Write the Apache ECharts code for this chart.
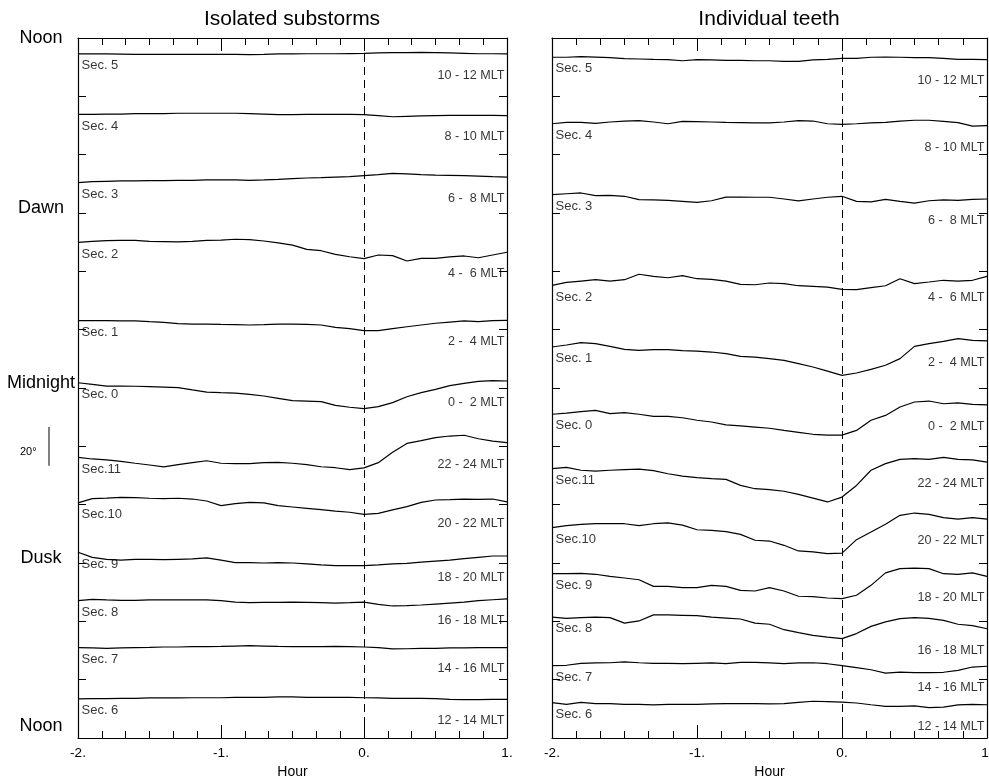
<!DOCTYPE html>
<html>
<head>
<meta charset="utf-8">
<script src="https://cdn.jsdelivr.net/npm/echarts@6/dist/echarts.min.js"></script>
<style>
  html, body { margin: 0; padding: 0; background: #fff; }
  #chart { width: 989px; height: 776px; }
</style>
</head>
<body>
<div id="chart"></div>
<script>
// sample times (hours from onset)
const hours = [-2.0,-1.9,-1.8,-1.7,-1.6,-1.5,-1.4,-1.3,-1.2,-1.1,-1.0,-0.9,-0.8,-0.7,-0.6,-0.5,
  -0.4,-0.3,-0.2,-0.1,0.0,0.1,0.2,0.3,0.4,0.5,0.6,0.7,0.8,0.9,1.0];

// rows from top to bottom
const secLabels = ['Sec. 5','Sec. 4','Sec. 3','Sec. 2','Sec. 1','Sec. 0','Sec.11','Sec.10','Sec. 9','Sec. 8','Sec. 7','Sec. 6'];
const mltLabels = ['10 - 12 MLT','8 - 10 MLT','6 -  8 MLT','4 -  6 MLT','2 -  4 MLT','0 -  2 MLT',
  '22 - 24 MLT','20 - 22 MLT','18 - 20 MLT','16 - 18 MLT','14 - 16 MLT','12 - 14 MLT'];
const sideTicks = [0, 90, 180, 270, 360];
const sideLabels = ['Noon', 'Dusk', 'Midnight', 'Dawn', 'Noon'];
const panelTitles = ['Isolated substorms', 'Individual teeth'];

// Isolated substorms (degrees, stacked)
const isoSec5 = [351.8,351.8,351.8,351.7,351.6,351.6,351.6,351.6,351.6,351.6,351.6,351.6,351.5,351.6,351.8,351.8,351.9,351.9,351.9,352.0,352.1,352.3,352.5,352.5,352.6,352.5,352.3,352.1,351.9,351.9,351.8];
const isoSec4 = [320.7,320.7,320.9,320.9,321.1,321.1,321.1,321.3,321.3,321.3,321.3,321.3,321.1,320.9,320.6,320.6,320.7,320.7,320.7,320.7,320.6,320.1,319.5,319.7,319.9,320.1,320.2,320.2,320.2,320.2,320.1];
const isoSec3 = [285.6,286.1,286.3,286.5,286.5,286.6,286.6,286.8,286.8,287.0,287.0,287.0,286.8,287.0,287.3,287.7,288.0,288.2,288.5,288.7,289.2,289.7,290.4,290.1,289.7,289.5,289.4,289.2,289.0,288.7,288.5];
const isoSec2 = [254.9,255.4,255.8,255.9,255.9,255.4,255.3,255.1,255.4,255.9,256.1,256.5,256.3,255.6,254.6,253.5,251.3,250.6,248.7,247.5,246.5,248.4,248.1,245.3,246.7,246.7,247.4,247.9,247.0,248.4,249.8];
const isoSec1 = [214.6,214.6,214.6,214.5,214.5,214.1,213.8,213.1,212.9,212.9,212.7,212.6,212.4,212.6,212.9,212.9,212.7,212.4,211.2,210.5,209.5,209.5,210.5,211.5,212.4,213.3,213.9,214.5,214.1,214.6,214.8];
const isoSec0 = [182.7,181.9,181.0,181.0,180.9,180.7,180.5,180.2,179.0,177.9,177.6,177.4,176.7,175.9,174.7,173.5,173.3,173.0,171.1,170.1,169.4,170.4,172.5,175.5,177.6,179.3,181.2,182.4,183.4,183.8,183.6];
const isoSec11 = [144.3,143.5,143.0,142.3,141.3,140.4,139.4,140.6,141.6,142.6,141.3,141.1,141.1,141.6,141.8,141.3,140.6,139.5,139.0,138.0,138.9,141.6,146.9,151.5,152.9,154.5,155.3,155.7,153.9,152.7,151.9];
const isoSec10 = [120.9,123.1,123.4,123.8,123.6,123.3,123.1,123.3,122.9,121.9,119.5,120.5,121.2,120.9,119.5,118.8,118.1,117.4,116.7,116.1,115.0,115.5,117.3,119.0,121.2,122.4,122.6,122.9,122.7,122.9,121.4];
const isoSec9 = [95.5,92.9,91.9,91.5,91.9,91.9,91.7,91.9,92.1,92.6,91.5,90.2,90.2,90.0,90.2,90.0,89.5,89.0,88.6,88.6,88.6,89.0,89.5,89.8,90.5,91.0,91.5,92.2,92.9,93.6,93.6];
const isoSec8 = [70.6,71.3,71.0,70.8,70.8,71.0,71.0,71.0,71.0,71.0,70.6,69.9,69.6,69.8,69.8,69.9,69.8,69.6,69.4,69.6,69.9,68.7,67.9,68.1,68.4,68.9,69.4,69.9,70.6,71.1,71.5];
const isoSec7 = [46.5,46.3,46.1,46.3,46.5,46.6,46.8,46.8,47.0,47.0,47.1,47.3,47.5,47.3,47.1,47.0,47.0,47.0,47.1,47.0,46.8,46.5,45.8,45.9,46.1,46.1,46.3,46.3,46.5,46.5,46.5];
const isoSec6 = [20.1,20.2,20.2,20.4,20.4,20.6,20.6,20.6,20.7,20.7,20.7,20.9,20.9,20.9,21.1,21.1,20.9,20.9,20.9,20.9,20.7,20.6,20.4,20.4,20.4,20.2,19.9,19.7,19.7,19.9,19.9];

// Individual teeth
const teethSec5 = [350.1,350.1,350.4,350.2,349.9,349.4,349.2,349.0,348.9,348.3,348.9,348.7,348.5,348.5,348.3,348.3,348.0,348.0,348.7,349.0,349.5,349.5,350.1,350.2,350.1,349.9,349.9,349.5,349.0,349.0,348.9];
const teethSec4 = [315.9,316.6,316.6,316.1,316.8,317.3,317.5,316.8,315.9,317.1,317.0,316.8,316.6,316.5,316.3,316.3,316.8,317.5,317.3,315.9,315.6,315.9,316.3,316.6,317.3,317.7,317.7,317.1,316.5,314.7,314.9];
const teethSec3 = [279.4,279.9,280.3,278.9,279.1,278.6,276.9,276.7,276.5,276.0,275.5,276.3,278.2,278.2,278.1,278.1,277.2,276.2,277.2,278.1,278.6,276.0,275.7,277.0,276.0,275.1,276.3,276.7,276.5,277.0,277.2];
const teethSec2 = [232.8,234.3,235.0,235.7,235.0,235.7,238.5,237.4,236.7,237.8,236.2,235.9,235.0,233.3,233.1,234.0,233.7,232.6,232.3,231.9,230.7,230.6,231.6,232.6,236.2,233.7,234.5,235.4,235.0,235.4,237.4];
const teethSec1 = [201.1,202.1,203.3,202.8,201.4,199.9,199.4,199.7,199.7,199.2,199.0,198.5,197.7,196.3,195.9,195.1,194.2,192.5,190.8,188.7,186.5,187.7,189.6,191.7,195.1,201.4,202.8,204.0,205.4,204.5,204.2];
const teethSec0 = [166.5,167.1,167.8,168.5,166.8,167.3,166.5,165.4,165.4,164.7,163.4,162.5,161.0,160.5,159.9,159.3,158.2,157.2,156.2,155.8,155.8,158.2,163.4,165.9,170.2,172.8,173.3,171.9,172.3,171.6,171.3];
const teethSec11 = [138.5,139.2,137.7,137.3,137.7,138.0,138.3,137.5,135.9,134.7,133.9,133.4,133.0,129.9,128.2,127.7,126.9,125.3,123.4,121.4,123.9,129.9,137.7,141.1,143.3,143.7,143.3,144.3,143.3,143.0,141.9];
const teethSec10 = [108.2,109.2,109.9,110.2,110.2,110.2,109.2,110.2,110.6,109.5,107.1,106.8,106.1,104.7,101.7,101.3,99.1,96.2,95.7,94.8,95.1,102.0,105.9,109.9,114.5,115.7,115.0,113.3,112.6,113.3,112.6];
const teethSec9 = [84.5,84.5,84.7,84.2,83.1,82.3,81.4,78.0,78.0,77.3,77.3,78.5,78.0,75.9,75.6,77.3,75.6,72.9,72.7,72.0,71.7,73.4,78.5,84.9,87.1,87.4,87.1,84.5,84.2,84.9,83.1];
const teethSec8 = [62.2,61.5,61.9,62.2,61.9,59.1,60.2,63.3,63.3,63.1,62.9,62.2,61.7,61.2,59.1,58.5,55.7,54.2,52.8,51.9,51.1,53.7,57.4,59.7,61.4,61.9,61.5,60.5,58.5,57.8,56.2];
const teethSec7 = [37.2,37.4,38.4,38.6,38.7,39.1,38.7,38.4,38.4,38.2,38.4,38.6,38.2,38.9,38.9,38.6,38.2,38.6,38.7,38.2,37.2,36.2,35.1,33.4,33.9,33.6,33.6,33.8,34.8,36.5,36.9];
const teethSec6 = [18.2,17.3,18.3,17.7,17.7,17.3,17.3,17.0,17.3,17.3,17.3,17.5,17.7,17.7,17.7,17.5,17.7,18.3,18.9,18.7,18.5,18.0,17.1,16.3,16.3,16.5,15.6,15.9,17.0,17.3,17.1];

const isoCurves = [isoSec5, isoSec4, isoSec3, isoSec2, isoSec1, isoSec0, isoSec11, isoSec10, isoSec9, isoSec8, isoSec7, isoSec6];
const teethCurves = [teethSec5, teethSec4, teethSec3, teethSec2, teethSec1, teethSec0, teethSec11, teethSec10, teethSec9, teethSec8, teethSec7, teethSec6];

const FONT = 'Liberation Sans, Arial, Helvetica, sans-serif';
const INK = '#000';
const chart = echarts.init(document.getElementById('chart'));

const lineStyle = { color: INK, width: 1.2 };

function xAxes(grid) {
  const base = {
    gridIndex: grid, type: 'value', min: -2, max: 1, interval: 1,
    axisLine: { onZero: false, lineStyle: lineStyle },
    axisTick: { inside: true, length: 13, lineStyle: { color: INK, width: 1 } },
    minorTick: { show: true, splitNumber: 6, length: 7, lineStyle: { color: INK, width: 1 } },
    splitLine: { show: false }, minorSplitLine: { show: false }
  };
  return [
    Object.assign({}, base, {
      position: 'bottom',
      axisLabel: { formatter: v => v + '.', color: INK, fontSize: 13.5, fontFamily: FONT, margin: 8,
        showMinLabel: true, showMaxLabel: true },
      name: 'Hour', nameLocation: 'middle', nameGap: 23,
      nameTextStyle: { color: INK, fontSize: 14, fontFamily: FONT }
    }),
    Object.assign({}, base, { position: 'top', axisLabel: { show: false } })
  ];
}

function yAxes(grid, withLabels) {
  const base = {
    gridIndex: grid, type: 'value', min: 0, max: 360, interval: 30,
    axisLine: { show: true, onZero: false, lineStyle: lineStyle },
    axisTick: { show: true, inside: true, length: 8, lineStyle: { color: INK, width: 1 } },
    splitLine: { show: false }
  };
  const left = Object.assign({}, base, { position: 'left', axisLabel: { show: false } });
  if (withLabels) {
    left.axisLabel = {
      show: true, margin: 37, align: 'center', showMinLabel: true, showMaxLabel: true,
      formatter: v => {
        const i = sideTicks.indexOf(v);
        if (i < 0) return '';
        const key = v === 360 ? 't' : (v === 0 ? 'b' : 's');
        return '{' + key + '|' + sideLabels[i] + '}';
      },
      rich: {
        t: { fontSize: 18, color: INK, fontFamily: FONT },
        s: { fontSize: 18, color: INK, fontFamily: FONT, padding: [0, 0, 10, 0] },
        b: { fontSize: 18, color: INK, fontFamily: FONT, padding: [0, 0, 24, 0] }
      }
    };
  }
  return [left, Object.assign({}, base, { position: 'right', axisLabel: { show: false } })];
}

function panelSeries(curves, xi, yi) {
  const out = curves.map((vals, k) => ({
    type: 'line', xAxisIndex: xi, yAxisIndex: yi, silent: true,
    symbol: 'none', showSymbol: false, lineStyle: lineStyle,
    data: hours.map((h, i) => [h, vals[i]]),
    markLine: k === 0 ? {
      silent: true, symbol: 'none', label: { show: false },
      lineStyle: { color: INK, width: 1, type: [8, 5] },
      data: [{ xAxis: 0 }]
    } : undefined
  }));
  // sector names under the start of each trace, MLT ranges at the right edge
  out.push({
    type: 'scatter', xAxisIndex: xi, yAxisIndex: yi, silent: true,
    symbolSize: 1, itemStyle: { color: 'rgba(0,0,0,0)' },
    data: curves.map((vals, k) => [hours[0], vals[0] - 6, secLabels[k]]),
    label: { show: true, position: 'right', distance: 3, formatter: p => p.data[2],
      color: INK, fontSize: 13, fontFamily: FONT }
  });
  out.push({
    type: 'scatter', xAxisIndex: xi, yAxisIndex: yi, silent: true,
    symbolSize: 1, itemStyle: { color: 'rgba(0,0,0,0)' },
    data: curves.map((vals, k) => [hours[hours.length - 1], vals[vals.length - 1] - 11, mltLabels[k]]),
    label: { show: true, position: 'left', distance: 2, formatter: p => p.data[2],
      color: INK, fontSize: 12.6, fontFamily: FONT }
  });
  return out;
}

const option = {
  animation: false,
  backgroundColor: '#fff',
  grid: [
    { left: 78, top: 38, width: 429, height: 700, outerBoundsMode: 'none' },
    { left: 552, top: 38, width: 435, height: 700, outerBoundsMode: 'none' }
  ],
  xAxis: xAxes(0).concat(xAxes(1)),
  yAxis: yAxes(0, true).concat(yAxes(1, false)),
  series: panelSeries(isoCurves, 0, 0).concat(panelSeries(teethCurves, 2, 2))
};
chart.setOption(option);

// titles and the 20 degree scale bar
const yTop = chart.convertToPixel({ gridIndex: 0 }, [-2, 160])[1];
const yBot = chart.convertToPixel({ gridIndex: 0 }, [-2, 140])[1];
chart.setOption({
  graphic: [
    { type: 'text', x: 292, y: 19.5, style: { text: panelTitles[0], font: '21px ' + FONT, fill: INK,
      align: 'center', verticalAlign: 'middle', textAlign: 'center', textVerticalAlign: 'middle' } },
    { type: 'text', x: 769, y: 19.5, style: { text: panelTitles[1], font: '21px ' + FONT, fill: INK,
      align: 'center', verticalAlign: 'middle', textAlign: 'center', textVerticalAlign: 'middle' } },
    { type: 'line', shape: { x1: 49, y1: yTop, x2: 49, y2: yBot }, style: { stroke: INK, lineWidth: 1 } },
    { type: 'text', x: 20, y: (yTop + yBot) / 2 + 6, style: { text: '20°', font: '11px ' + FONT, fill: INK,
      align: 'left', verticalAlign: 'middle', textAlign: 'left', textVerticalAlign: 'middle' } }
  ]
});
</script>
</body>
</html>
